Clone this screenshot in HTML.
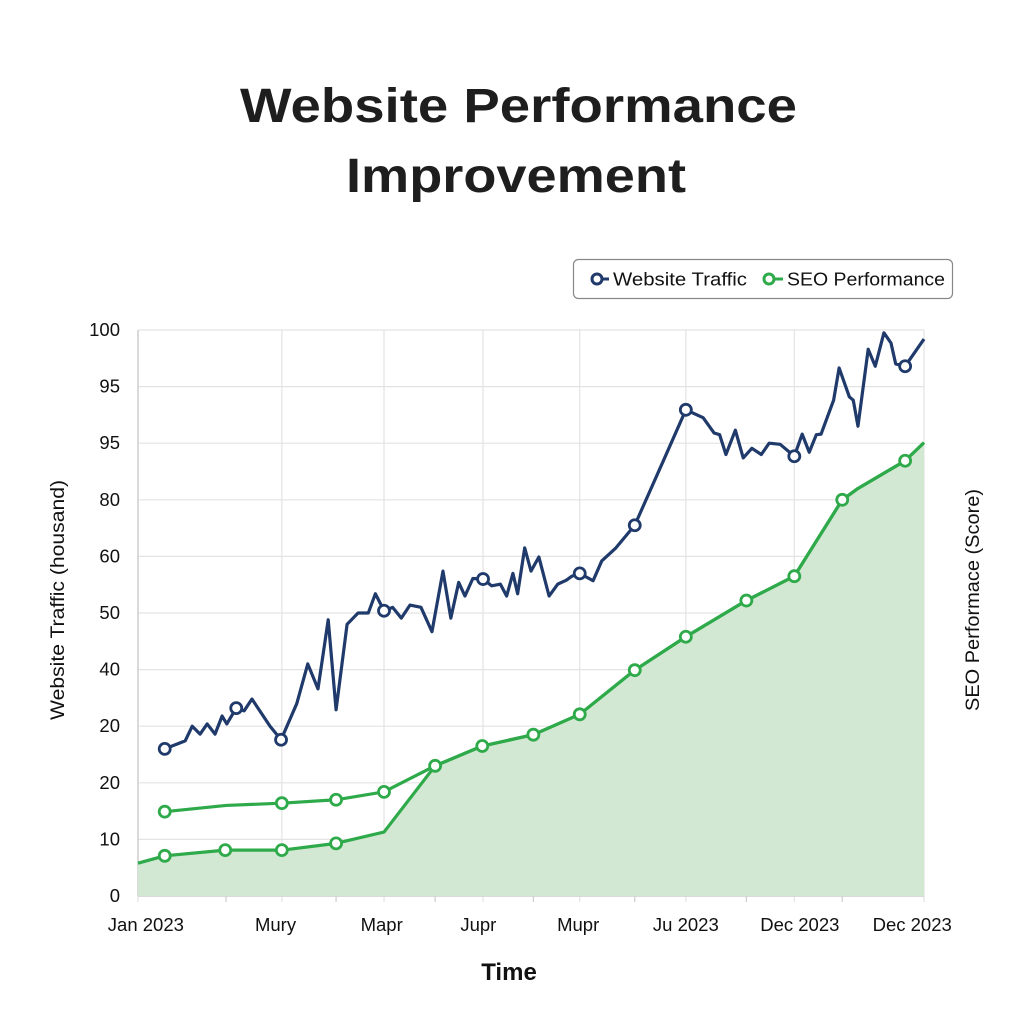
<!DOCTYPE html>
<html><head><meta charset="utf-8"><style>
body{margin:0;background:#fff;}
svg{display:block;font-family:"Liberation Sans",sans-serif;}
</style></head><body>
<svg id="chart" width="1024" height="1024" viewBox="0 0 1024 1024">
<text x="240" y="122" textLength="557" lengthAdjust="spacingAndGlyphs" font-size="48" font-weight="bold" fill="#1e1e1e">Website Performance</text>
<text x="346" y="192" textLength="340" lengthAdjust="spacingAndGlyphs" font-size="48" font-weight="bold" fill="#1e1e1e">Improvement</text>
<g>
<rect x="573.5" y="259.5" width="379" height="39" rx="5" fill="#fff" stroke="#888" stroke-width="1.2"/>
<g>
<line x1="597" y1="279" x2="609" y2="279" stroke="#1f3a6b" stroke-width="3"/>
<circle cx="597" cy="279" r="5" fill="#fff" stroke="#1f3a6b" stroke-width="3"/>
<text x="613" y="285.5" font-size="18.5" textLength="134" lengthAdjust="spacingAndGlyphs" fill="#111">Website Traffic</text></g>
<g>
<line x1="769" y1="279" x2="783" y2="279" stroke="#2eaa4a" stroke-width="3"/>
<circle cx="769" cy="279" r="5" fill="#fff" stroke="#2eaa4a" stroke-width="3"/>
<text x="787" y="285.5" font-size="18.5" textLength="158" lengthAdjust="spacingAndGlyphs" fill="#111">SEO Performance</text></g>
</g>
<g id="grid"></g>
<g id="axes"></g>
<g id="series"></g>
<text x="509" y="980" text-anchor="middle" font-size="24" font-weight="bold" fill="#111">Time</text>
<text transform="translate(64,600) rotate(-90)" text-anchor="middle" font-size="19" textLength="240" lengthAdjust="spacingAndGlyphs" fill="#111">Website Traffic (housand)</text>
<text transform="translate(979,600) rotate(-90)" text-anchor="middle" font-size="19" textLength="222" lengthAdjust="spacingAndGlyphs" fill="#111">SEO Performace (Score)</text>
</svg>
<script>
const yTickValues=[0,10,20,30,40,50,60,70,80,90,100];
const yTickLabels=["0","10","20","20","40","50","60","80","95","95","100"];
const xTickPos=[0,18.3,31.3,43.9,56.2,69.7,83.5,100];
const xTickLabels=["Jan 2023","Mury","Mapr","Jupr","Mupr","Ju 2023","Dec 2023","Dec 2023"];
const xLabelPos=[1,17.5,31.0,43.3,56.0,69.7,84.2,98.5];
const xMinorTicks=[11.2,25.2,37.8,50.3,63.2,77.4,89.6];
const trafficT=[3.4,6.0,6.9,7.9,8.8,9.8,10.7,11.3,12.5,13.5,14.5,16.8,18.2,20.2,21.6,22.9,24.2,25.2,26.6,28.0,29.3,30.2,31.3,32.4,33.5,34.6,36.0,37.4,38.8,39.8,40.8,41.6,42.6,43.9,45.0,46.1,46.9,47.7,48.3,49.2,50.0,51.0,52.3,53.4,54.5,55.2,56.2,57.9,59.0,60.8,63.2,67.0,69.7,71.9,73.3,74.0,74.8,76.0,77.0,78.1,79.3,80.3,81.7,83.5,84.5,85.4,86.3,86.9,88.5,89.2,90.5,91.0,91.6,92.9,93.8,94.9,95.8,96.4,97.6,100];
const trafficV=[26,27.4,30,28.6,30.4,28.6,31.8,30.4,33.2,32.7,34.8,30,27.6,34,41,36.6,48.8,32.9,48,50,50,53.4,50.4,51,49.1,51.4,51,46.7,57.4,49.1,55.4,53,56.1,56,54.8,55.1,53,57,53.4,61.5,57.4,59.9,53,55.1,55.8,56.5,57,55.7,59.2,61.5,65.5,77.4,85.9,84.5,81.8,81.5,78,82.3,77.4,79.1,78,80,79.8,77.7,81.6,78.4,81.5,81.6,87.6,93.3,88.2,87.6,83,96.6,93.6,99.5,97.7,94,93.6,98.4];
const trafficMarkers=[3.4,12.5,18.2,31.3,43.9,56.2,63.2,69.7,83.5,97.6];
const seoT=[3.4,11.2,18.3,25.2,31.3,37.8,43.8,50.3,56.2,63.2,69.7,77.4,83.5,89.6,91.6,97.6,100];
const seoV=[14.9,16.0,16.4,17.0,18.4,23.0,26.5,28.5,32.1,39.9,45.8,52.2,56.5,70.0,72.0,76.9,80.1];
const seoMarked=[1,0,1,1,1,1,1,1,1,1,1,1,1,1,0,1,0];
const baseT=[0,3.4,11.1,18.3,25.2,31.3];
const baseV=[5.8,7.1,8.1,8.1,9.3,11.3];
const baseMarkers=[3.4,11.1,18.3,25.2];

const NS="http://www.w3.org/2000/svg";
const X0=138,X1=924,Y0=896,Y1=330;
const xs=t=>X0+(X1-X0)*t/100;
const ys=v=>Y0-(Y0-Y1)*v/100;
function mk(tag,attrs,parent){const e=document.createElementNS(NS,tag);for(const k in attrs)e.setAttribute(k,attrs[k]);parent.appendChild(e);return e;}
const grid=document.getElementById('grid'),axes=document.getElementById('axes'),series=document.getElementById('series');
yTickValues.forEach((v,i)=>{
 const l=mk('line',{x1:X0,x2:X1,y1:ys(v),y2:ys(v),stroke:'#e3e3e3','stroke-width':1.2},grid);
 
 
 const t=mk('text',{x:120,y:ys(v)+6,'text-anchor':'end','font-size':18.5,fill:'#111'},axes);
 t.textContent=yTickLabels[i];
 
 
});
xTickPos.forEach((p,i)=>{
 const l=mk('line',{x1:xs(p),x2:xs(p),y1:Y1,y2:Y0+6,stroke:'#e3e3e3','stroke-width':1.2},grid);
 
 
 const t=mk('text',{x:xs(xLabelPos[i]),y:931,'text-anchor':'middle','font-size':18.5,fill:'#111'},axes);
 t.textContent=xTickLabels[i];
 
 
});
xMinorTicks.forEach(p=>{
 const l=mk('line',{x1:xs(p),x2:xs(p),y1:Y0,y2:Y0+6,stroke:'#ccc','stroke-width':1.2},axes);
 
 
});
const ax=mk('line',{x1:X0,x2:X0,y1:Y1,y2:Y0,stroke:'#d0d0d0','stroke-width':1.5},axes);


const bx=mk('line',{x1:X0,x2:X1,y1:Y0,y2:Y0,stroke:'#d0d0d0','stroke-width':1.5},axes);



const lowT=baseT.concat(seoT.slice(5)),lowV=baseV.concat(seoV.slice(5));
let area='M'+xs(lowT[0])+','+Y0;
lowT.forEach((t,i)=>area+=' L'+xs(t)+','+ys(lowV[i]));
area+=' L'+xs(lowT[lowT.length-1])+','+Y0+' Z';
const ar=mk('path',{d:area,fill:'#d3e8d3'},series);


const line=(T,V,col,name)=>{const p=mk('polyline',{points:T.map((t,i)=>xs(t)+','+ys(V[i])).join(' '),fill:'none',stroke:col,'stroke-width':3.2,'stroke-linejoin':'round'},series);
 
 };
line(lowT,lowV,'#2eaa4a','seo-baseline-line');
line(seoT,seoV,'#2eaa4a','seo-line');
line(trafficT,trafficV,'#1f3a6b','traffic-line');
const dot=(t,v,col,name)=>{const c=mk('circle',{cx:xs(t),cy:ys(v),r:5.5,fill:'#fff',stroke:col,'stroke-width':2.8},series);
 
 };
baseMarkers.forEach(t=>dot(t,baseV[baseT.indexOf(t)],'#2eaa4a','seo-baseline-point'));
seoT.forEach((t,i)=>{if(seoMarked[i])dot(t,seoV[i],'#2eaa4a','seo-point');});
trafficMarkers.forEach(t=>dot(t,trafficV[trafficT.indexOf(t)],'#1f3a6b','traffic-point'));
</script>
</body></html>
